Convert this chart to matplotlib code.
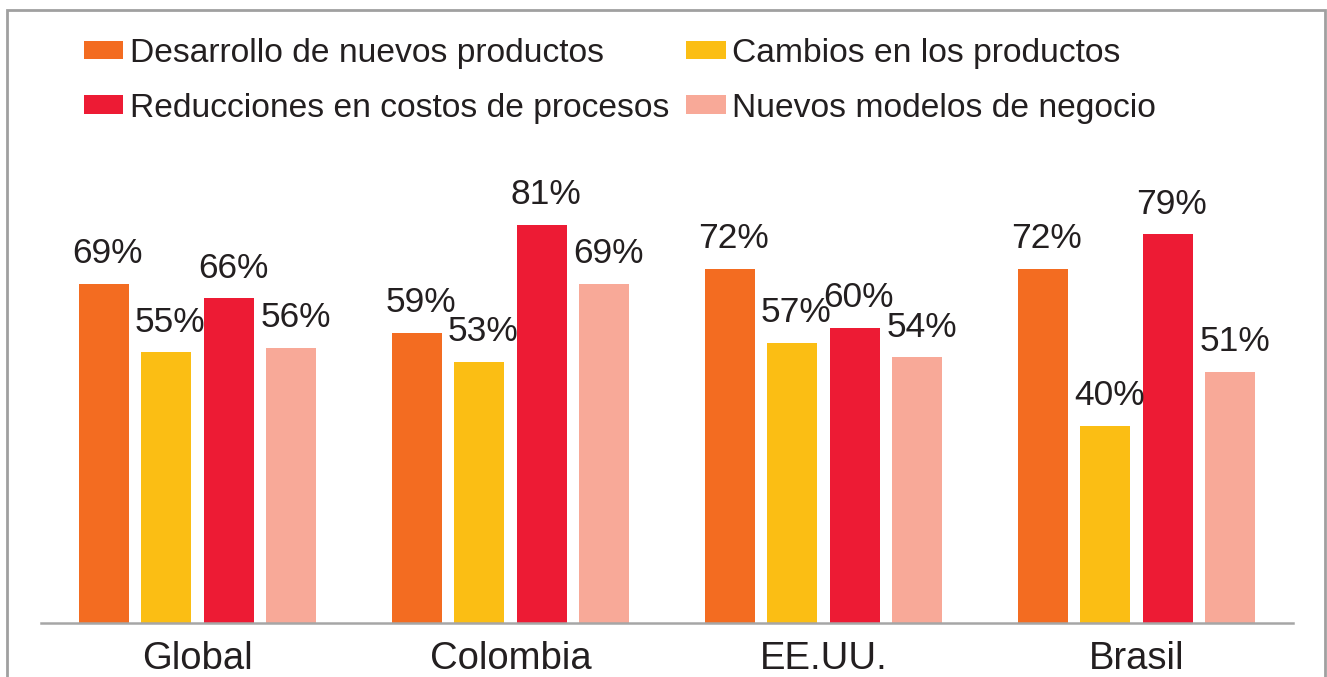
import numpy as np
import matplotlib.pyplot as plt
from matplotlib.patches import Rectangle

plt.rcParams['font.family'] = ['Liberation Sans', 'DejaVu Sans']

paises = ["Global", "Colombia", "EE.UU.", "Brasil"]
series = ["Desarrollo de nuevos productos", "Cambios en los productos",
          "Reducciones en costos de procesos", "Nuevos modelos de negocio"]
desarrollo = [69, 59, 72, 72]
cambios = [55, 53, 57, 40]
reducciones = [66, 81, 60, 79]
nuevos = [56, 69, 54, 51]
colores = ["#F36C21", "#FBBE14", "#ED1B34", "#F8A998"]
texto = "#231F20"

valores = [desarrollo, cambios, reducciones, nuevos]

fig = plt.figure(figsize=(13.27, 6.77), dpi=100)
ax = fig.add_axes([41/1327, 1-623/677, (1293-41)/1327, 487/677])

x = np.arange(len(paises))
ancho = 0.16
paso = 0.2
barras = []
for i, (nombre, vals) in enumerate(zip(series, valores)):
    pos = x + (i - 1.5) * paso
    b = ax.bar(pos, vals, ancho, color=colores[i], label=nombre, zorder=2)
    barras.append(b)
    for xx, v in zip(pos, vals):
        ax.annotate(f"{v}%", (xx, v), xytext=(3, 15), textcoords="offset points",
                    ha="center", va="baseline", fontsize=25.5, color=texto)

ax.set_xlim(-0.5, 3.5)
ax.set_ylim(0, 99)
ax.set_xticks(x)
ax.set_xticklabels(paises, fontsize=27.5, color=texto)
ax.tick_params(axis="x", length=0, pad=13)
ax.set_yticks([])
for s in ["top", "right", "left"]:
    ax.spines[s].set_visible(False)
ax.spines["bottom"].set_color("#A6A6A6")
ax.spines["bottom"].set_linewidth(1.8)

orden = [0, 2, 1, 3]
leg = fig.legend([barras[i] for i in orden], [series[i] for i in orden],
                 ncol=2, loc="upper left", bbox_to_anchor=(84/1327, 1-38/677),
                 frameon=False, fontsize=24.2, handlelength=1.17, handleheight=0.48,
                 handletextpad=0.2, columnspacing=0.5, labelspacing=0.7,
                 borderaxespad=0, borderpad=0)
for t in leg.get_texts():
    t.set_color(texto)

fig.patches.append(Rectangle((7/1327, -0.1), (1325-7)/1327, 1.1 - 10/677,
                             transform=fig.transFigure, fill=False,
                             edgecolor="#A0A0A0", linewidth=2))

fig.savefig("out.png", dpi=100)
